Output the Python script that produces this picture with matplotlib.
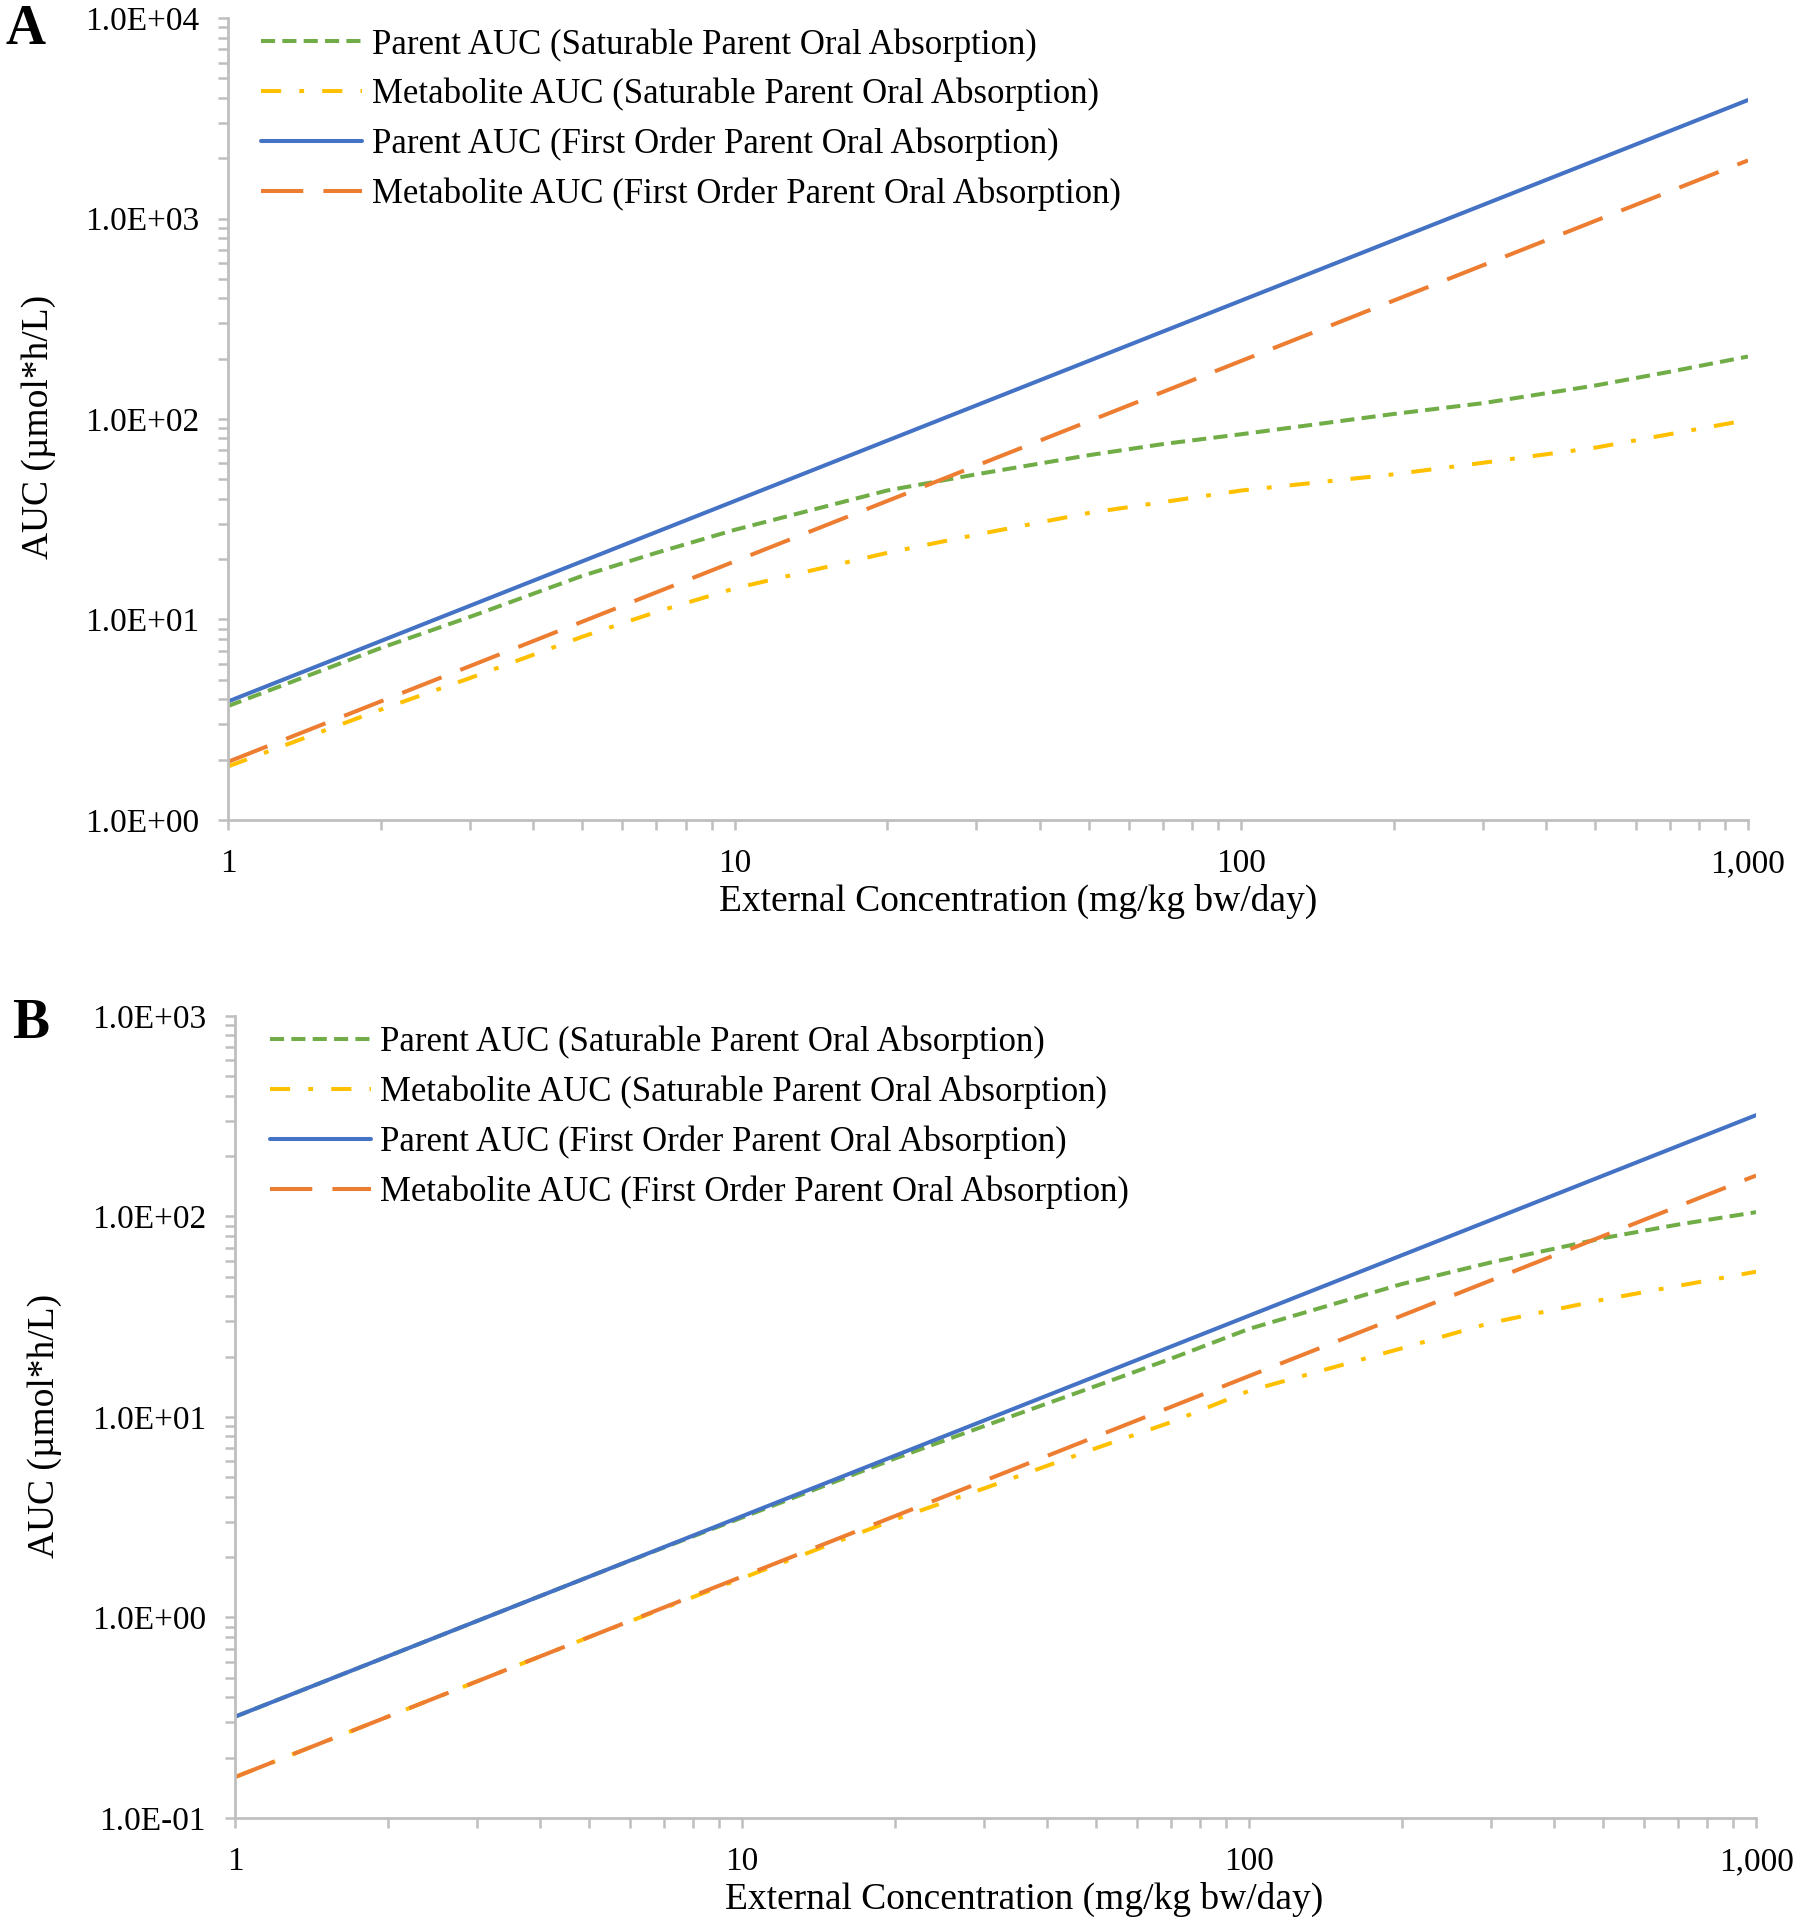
import matplotlib
matplotlib.use("Agg")
import matplotlib.pyplot as plt
from matplotlib.ticker import FuncFormatter, LogLocator, NullFormatter

plt.rcParams['font.family'] = ['Liberation Serif', 'DejaVu Serif']

doses = [1, 2, 3, 5, 7, 10, 20, 30, 50, 70, 100, 200, 300, 500, 700, 1000]

# Panel A
a_parent_sat = [3.7, 7.2, 10.3, 16.5, 21.5, 28, 44, 53, 66, 75, 84, 106, 120, 147, 172, 205]
a_metab_sat = [1.85, 3.55, 5.1, 8.2, 10.9, 14.3, 21.5, 26.5, 34, 38.5, 44, 53, 60.5, 72, 84, 99]
a_parent_fo = [3.9, 7.8, 11.7, 19.5, 27.3, 39, 78, 117, 195, 273, 390, 780, 1170, 1950, 2730, 3900]
a_metab_fo = [1.95, 3.9, 5.85, 9.75, 13.65, 19.5, 39, 58.5, 97.5, 136.5, 195, 390, 585, 975, 1365, 1950]

# Panel B
b_parent_sat = [0.32, 0.64, 0.96, 1.6, 2.23, 3.15, 6.2, 9.0, 14.3, 19.5, 27.5, 46, 59, 78, 91, 105]
b_metab_sat = [0.16, 0.32, 0.48, 0.8, 1.11, 1.57, 3.08, 4.4, 7.0, 9.4, 13.5, 22, 29.5, 38.5, 45, 53]
b_parent_fo = [0.32, 0.64, 0.96, 1.6, 2.24, 3.2, 6.4, 9.6, 16, 22.4, 32, 64, 96, 160, 224, 320]
b_metab_fo = [0.16, 0.32, 0.48, 0.8, 1.12, 1.6, 3.2, 4.8, 8, 11.2, 16, 32, 48, 80, 112, 160]

labels = ["Parent AUC (Saturable Parent Oral Absorption)",
          "Metabolite AUC (Saturable Parent Oral Absorption)",
          "Parent AUC (First Order Parent Oral Absorption)",
          "Metabolite AUC (First Order Parent Oral Absorption)"]
xlabel = "External Concentration (mg/kg bw/day)"
ylabel = "AUC (\u00b5mol*h/L)"

colors = ["#70AD47", "#FFC000", "#4472C4", "#ED7D31"]
dashes = [(3.5, 1.8), (5, 4.5, 1.2, 4.5), None, (10.5, 5)]
LW = 2.9
GRAY = "#BFBFBF"
FS_LEG = 25
FS_TICK = 24
FS_LAB = 27

fig = plt.figure(figsize=(18, 19.23), dpi=100)

def setup(ax, series, ylim, legend_anchor, ylab_xy, xlab_xy):
    for vals, c, d, lab in zip(series, colors, dashes, labels):
        kw = dict(color=c, lw=LW, label=lab, solid_capstyle='round', dash_capstyle='butt')
        if d is not None:
            ax.plot(doses, vals, dashes=d, **kw)
        else:
            ax.plot(doses, vals, **kw)
    ax.set_xscale('log')
    ax.set_yscale('log')
    ax.set_xlim(1, 1000)
    ax.set_ylim(*ylim)
    for s in ['top', 'right']:
        ax.spines[s].set_visible(False)
    for s in ['left', 'bottom']:
        ax.spines[s].set_color(GRAY)
        ax.spines[s].set_linewidth(2)
    ax.xaxis.set_major_locator(LogLocator(base=10, numticks=10))
    ax.xaxis.set_minor_locator(LogLocator(base=10, subs=range(2, 10), numticks=20))
    ax.yaxis.set_major_locator(LogLocator(base=10, numticks=10))
    ax.yaxis.set_minor_locator(LogLocator(base=10, subs=range(2, 10), numticks=20))
    ax.xaxis.set_major_formatter(FuncFormatter(lambda v, p: f"{v:,.0f}"))
    ax.xaxis.set_minor_formatter(NullFormatter())
    ax.yaxis.set_major_formatter(FuncFormatter(lambda v, p: f"{v:.1E}"))
    ax.yaxis.set_minor_formatter(NullFormatter())
    ax.tick_params(axis='both', which='both', direction='out', length=7, width=1.8, color=GRAY)
    ax.tick_params(axis='x', which='major', labelsize=FS_TICK, pad=13.5)
    ax.tick_params(axis='y', which='major', labelsize=FS_TICK, pad=14)
    ax.set_xlabel(xlabel, fontsize=FS_LAB)
    ax.set_ylabel(ylabel, fontsize=FS_LAB)
    ax.yaxis.set_label_coords(*ylab_xy)
    ax.xaxis.set_label_coords(*xlab_xy)
    ax.legend(loc='upper left', bbox_to_anchor=legend_anchor, frameon=False,
              fontsize=FS_LEG, handlelength=2.9, handletextpad=0.28, labelspacing=0.47,
              borderpad=0, borderaxespad=0)

axA = fig.add_axes([0.1267, 0.5736, 0.9711 - 0.1267, 0.9906 - 0.5736])
setup(axA, [a_parent_sat, a_metab_sat, a_parent_fo, a_metab_fo], (1, 1e4),
      (0.022, 0.9875), (-0.113, 0.49), (0.52, -0.080))
axB = fig.add_axes([0.1306, 0.0546, 0.9756 - 0.1306, 0.4717 - 0.0546])
setup(axB, [b_parent_sat, b_metab_sat, b_parent_fo, b_metab_fo], (0.1, 1e3),
      (0.023, 0.9875), (-0.114, 0.489), (0.519, -0.080))

fig.text(25 / 1800, 1 - 30 / 1923, "A", fontsize=40, fontweight='bold', ha='center', va='center')
fig.text(31 / 1800, 1 - 1024 / 1923, "B", fontsize=40, fontweight='bold', ha='center', va='center')

fig.savefig("out.png", dpi=100)
